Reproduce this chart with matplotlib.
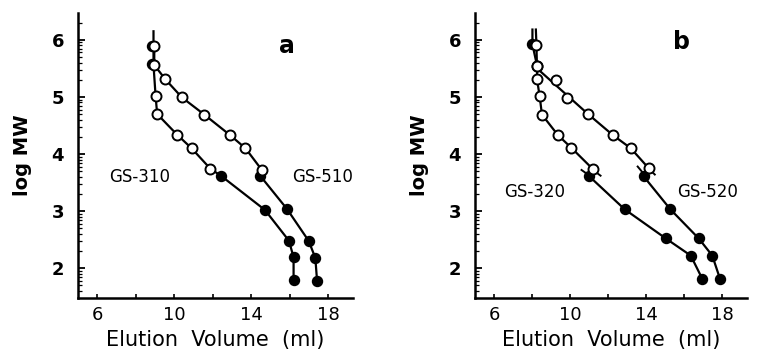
import numpy as np
import matplotlib
matplotlib.use("Agg")
import matplotlib.pyplot as plt
from matplotlib.ticker import FixedLocator, NullFormatter

plt.rcParams['font.family'] = ['DejaVu Sans']

# ---- panel a : GS-310 / GS-510 ----
a310_line_x = [8.92, 8.92, 8.92, 9.03, 9.11, 10.14, 10.90, 11.88, 12.42, 14.71, 15.96, 16.20, 16.20]
a310_line_y = [6.15, 5.89, 5.56, 5.01, 4.70, 4.34, 4.10, 3.74, 3.62, 3.02, 2.48, 2.19, 1.79]
a310_open_x = [9.03, 9.11, 10.14, 10.90, 11.88]
a310_open_y = [5.01, 4.70, 4.34, 4.10, 3.74]
a310_fill_x = [8.82, 8.85, 12.42, 14.71, 15.96, 16.20, 16.20]
a310_fill_y = [5.90, 5.57, 3.62, 3.02, 2.48, 2.19, 1.79]

a510_line_x = [8.96, 8.96, 9.53, 10.40, 11.56, 12.90, 13.70, 14.55, 14.46, 15.85, 16.98, 17.33, 17.42]
a510_line_y = [5.89, 5.56, 5.31, 4.99, 4.69, 4.33, 4.10, 3.72, 3.62, 3.04, 2.48, 2.18, 1.78]
a510_open_x = [8.96, 8.96, 9.53, 10.40, 11.56, 12.90, 13.70, 14.55]
a510_open_y = [5.89, 5.56, 5.31, 4.99, 4.69, 4.33, 4.10, 3.72]
a510_fill_x = [14.46, 15.85, 16.98, 17.33, 17.42]
a510_fill_y = [3.62, 3.04, 2.48, 2.18, 1.78]

# ---- panel b : GS-320 / GS-520 ----
b320_line_x = [8.02, 8.02, 8.26, 8.26, 8.40, 8.52, 9.36, 10.06, 11.18, 10.97, 12.87, 15.03, 16.34, 16.95]
b320_line_y = [6.18, 5.92, 5.55, 5.31, 5.01, 4.69, 4.33, 4.11, 3.74, 3.62, 3.03, 2.52, 2.22, 1.81]
b320_open_x = [8.26, 8.26, 8.40, 8.52, 9.36, 10.06, 11.18]
b320_open_y = [5.55, 5.31, 5.01, 4.69, 4.33, 4.11, 3.74]
b320_fill_x = [8.00, 10.97, 12.87, 15.03, 16.34, 16.95]
b320_fill_y = [5.92, 3.62, 3.03, 2.52, 2.22, 1.81]

b520_line_x = [8.20, 8.23, 8.26, 10.94, 12.25, 13.19, 14.13, 13.86, 15.27, 16.76, 17.47, 17.88]
b520_line_y = [6.18, 5.91, 5.50, 4.70, 4.33, 4.10, 3.75, 3.61, 3.03, 2.52, 2.22, 1.81]
b520_open_x = [8.23, 8.26, 9.26, 9.84, 10.94, 12.25, 13.19, 14.13]
b520_open_y = [5.91, 5.55, 5.30, 4.98, 4.70, 4.33, 4.10, 3.75]
b520_fill_x = [13.86, 15.27, 16.76, 17.47, 17.88]
b520_fill_y = [3.61, 3.03, 2.52, 2.22, 1.81]

# short crossing strokes near the open/filled overlap in b
b_mark_x = [[10.6, 11.1], [11.2, 11.6], [13.55, 13.95], [14.2, 14.45]]
b_mark_y = [[3.72, 3.60], [3.72, 3.62], [3.78, 3.62], [3.72, 3.64]]

x_major = [6, 10, 14, 18]
x_minor = [8, 12, 16]
y_major = [2, 3, 4, 5, 6]
y_minor = [n + np.log10(k) for n in range(1, 7) for k in range(2, 10)]

fig = plt.figure(figsize=(7.58, 3.61), dpi=100)
ax_a = fig.add_axes([0.103, 0.175, 0.363, 0.789])
ax_b = fig.add_axes([0.6266, 0.175, 0.359, 0.789])

def curve(ax, lx, ly, ox, oy, fx, fy):
    ax.plot(lx, ly, color='black', lw=1.6, zorder=2)
    ax.plot(fx, fy, 'o', ms=7.2, mfc='black', mec='black', zorder=3)
    ax.plot(ox, oy, 'o', ms=7.2, mfc='white', mec='black', mew=1.4, zorder=4)

def style(ax):
    ax.set_xlim(5.0, 19.3)
    ax.set_ylim(1.48, 6.47)
    for s in ['top', 'right']:
        ax.spines[s].set_visible(False)
    for s in ['left', 'bottom']:
        ax.spines[s].set_linewidth(1.8)
    ax.xaxis.set_major_locator(FixedLocator(x_major))
    ax.xaxis.set_minor_locator(FixedLocator(x_minor))
    ax.yaxis.set_major_locator(FixedLocator(y_major))
    ax.yaxis.set_minor_locator(FixedLocator(y_minor))
    ax.yaxis.set_minor_formatter(NullFormatter())
    ax.tick_params(axis='x', which='both', direction='in', length=3, width=1.2, pad=6)
    ax.tick_params(axis='y', which='major', direction='in', length=5, width=1.3, pad=10)
    ax.tick_params(axis='y', which='minor', direction='in', length=3, width=0.9)
    for t in ax.get_xticklabels():
        t.set_fontsize(13)
        t.set_family(['Liberation Sans Narrow', 'DejaVu Sans'])
    for t in ax.get_yticklabels():
        t.set_fontsize(13)
        t.set_fontweight('bold')
    ax.set_xlabel('Elution  Volume  (ml)', fontsize=15, labelpad=4)
    ax.set_ylabel('log MW', fontsize=14, fontweight='bold', labelpad=14)

curve(ax_a, a310_line_x, a310_line_y, a310_open_x, a310_open_y, a310_fill_x, a310_fill_y)
curve(ax_a, a510_line_x, a510_line_y, a510_open_x, a510_open_y, a510_fill_x, a510_fill_y)
curve(ax_b, b320_line_x, b320_line_y, b320_open_x, b320_open_y, b320_fill_x, b320_fill_y)
curve(ax_b, b520_line_x, b520_line_y, b520_open_x, b520_open_y, b520_fill_x, b520_fill_y)
for mx, my in zip(b_mark_x, b_mark_y):
    ax_b.plot(mx, my, color='black', lw=1.4, zorder=2)

style(ax_a)
style(ax_b)

ax_a.text(15.87, 5.89, 'a', fontsize=17, fontweight='bold', ha='center', va='center')
ax_b.text(15.87, 5.97, 'b', fontsize=17, fontweight='bold', ha='center', va='center')
ax_a.text(8.2, 3.6, 'GS-310', fontsize=12, ha='center', va='center')
ax_a.text(17.7, 3.6, 'GS-510', fontsize=12, ha='center', va='center')
ax_b.text(8.16, 3.33, 'GS-320', fontsize=12, ha='center', va='center')
ax_b.text(17.2, 3.33, 'GS-520', fontsize=12, ha='center', va='center')

fig.savefig('out.png', dpi=100)
